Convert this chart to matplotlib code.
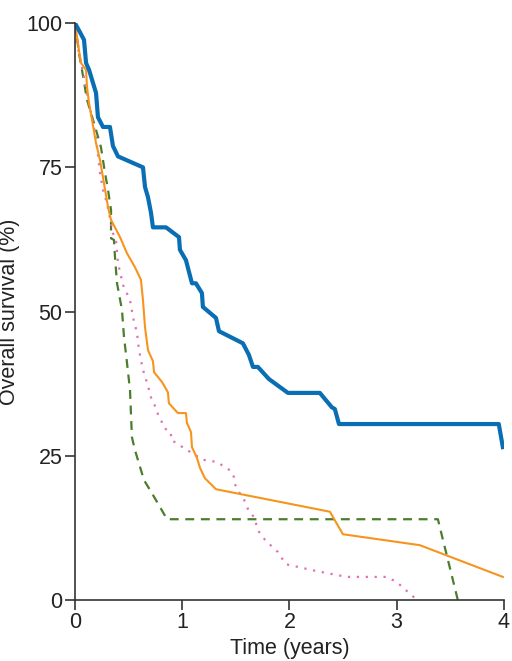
import matplotlib
matplotlib.use("Agg")
import matplotlib.pyplot as plt

plt.rcParams['font.family'] = ['Liberation Sans', 'DejaVu Sans']

# blue, thick solid
t_blue = [0, 0.047, 0.084, 0.103, 0.131, 0.196, 0.214, 0.261, 0.326, 0.354, 0.401,
          0.634, 0.653, 0.681, 0.709, 0.727, 0.849, 0.970, 0.979, 1.035, 1.091,
          1.128, 1.184, 1.193, 1.315, 1.343, 1.566, 1.622, 1.660, 1.706, 1.809,
          1.986, 2.284, 2.396, 2.424, 2.462, 3.953, 3.991]
s_blue = [100, 98.4, 97.1, 93.1, 91.9, 87.9, 83.7, 82.0, 82.0, 78.7, 76.9,
          75.0, 71.6, 69.8, 67.1, 64.6, 64.6, 62.9, 60.7, 58.9, 54.9,
          54.9, 53.2, 50.8, 48.9, 46.6, 44.5, 42.5, 40.4, 40.4, 38.3,
          35.9, 35.9, 33.4, 33.1, 30.5, 30.5, 26.5]

# orange, thin solid
t_orange = [0, 0.019, 0.037, 0.056, 0.103, 0.112, 0.131, 0.159, 0.196, 0.233,
            0.308, 0.336, 0.420, 0.485, 0.559, 0.615, 0.634, 0.653, 0.681, 0.727,
            0.737, 0.811, 0.867, 0.876, 0.960, 1.035, 1.044, 1.082, 1.091, 1.138,
            1.166, 1.212, 1.315, 2.378, 2.499, 3.217, 3.991]
s_orange = [100, 97.6, 95.3, 93.1, 91.9, 88.9, 86.1, 83.2, 79.2, 76.3,
            68.1, 65.9, 62.9, 60.1, 57.7, 55.5, 52.0, 47.3, 43.3, 41.4,
            39.5, 37.8, 36.0, 34.1, 32.4, 32.4, 30.7, 29.1, 26.5, 24.6,
            22.9, 21.1, 19.2, 15.3, 11.4, 9.5, 4.0]

# pink, dotted
t_pink = [0, 0.009, 0.037, 0.084, 0.103, 0.149, 0.196, 0.233, 0.261, 0.298,
          0.354, 0.382, 0.401, 0.448, 0.513, 0.541, 0.578, 0.597, 0.634, 0.681,
          0.718, 0.755, 0.774, 0.811, 0.830, 0.895, 0.895, 0.951, 1.016, 1.082,
          1.193, 1.268, 1.333, 1.389, 1.455, 1.483, 1.492, 1.520, 1.566, 1.594,
          1.622, 1.669, 1.688, 1.706, 1.753, 1.772, 1.893, 1.967, 2.256, 2.536,
          2.909, 3.002, 3.19]
s_pink = [100, 97.2, 94.8, 90.6, 88.4, 84.4, 80.2, 74.0, 71.1, 68.8,
          63.6, 62.4, 58.4, 54.6, 52.0, 49.0, 46.3, 43.3, 39.9, 37.1,
          34.5, 33.4, 32.2, 30.8, 29.8, 29.1, 27.7, 27.2, 26.3, 25.6,
          24.3, 24.1, 23.9, 23.1, 22.4, 21.3, 20.1, 18.9, 17.9, 16.6,
          15.4, 14.4, 13.3, 12.0, 11.1, 10.4, 8.3, 6.2, 5.0, 4.0,
          4.0, 3.1, 0]

# green, dashed
t_green = [0, 0.019, 0.037, 0.065, 0.112, 0.196, 0.242, 0.280, 0.308, 0.336,
           0.336, 0.364, 0.373, 0.392, 0.438, 0.457, 0.485, 0.513, 0.531, 0.559,
           0.606, 0.643, 0.718, 0.793, 0.858, 3.385, 3.571]
s_green = [100, 97.4, 94.8, 91.9, 86.7, 81.5, 78.5, 74.0, 71.1, 67.6,
           62.7, 62.4, 59.4, 54.9, 50.3, 45.6, 41.1, 36.4, 28.2, 26.0,
           23.1, 20.8, 18.5, 16.1, 14.0, 14.0, 0]

fig = plt.figure(figsize=(5.12, 6.61), dpi=100)
ax = fig.add_axes([0.1465, 0.0923, 0.8375, 0.8727])

ax.plot(t_green, s_green, color='#4a7d2c', lw=1.6, ls=(0, (4, 3)))
ax.plot(t_pink, s_pink, color='#e070b8', lw=1.6, ls=(0, (1, 3)))
ax.plot(t_orange, s_orange, color='#f7941d', lw=1.5)
ax.plot(t_blue, s_blue, color='#0a6eb4', lw=3.0)

ax.set_xlim(0, 4)
ax.set_ylim(0, 100)
ax.set_xticks([0, 1, 2, 3, 4])
ax.set_yticks([0, 25, 50, 75, 100])
for side in ['top', 'right']:
    ax.spines[side].set_visible(False)
for side in ['left', 'bottom']:
    ax.spines[side].set_color('#333333')
    ax.spines[side].set_linewidth(1.2)
ax.tick_params(direction='out', length=7, width=1.2, color='#333333',
               labelsize=15.5, labelcolor='#222222', pad=2)
ax.set_xlabel('Time (years)', fontsize=15.5, color='#222222', labelpad=3)
ax.set_ylabel('Overall survival (%)', fontsize=15.5, color='#222222')
ax.yaxis.set_label_coords(-0.128, 0.5)

fig.savefig('out.png', dpi=100)
